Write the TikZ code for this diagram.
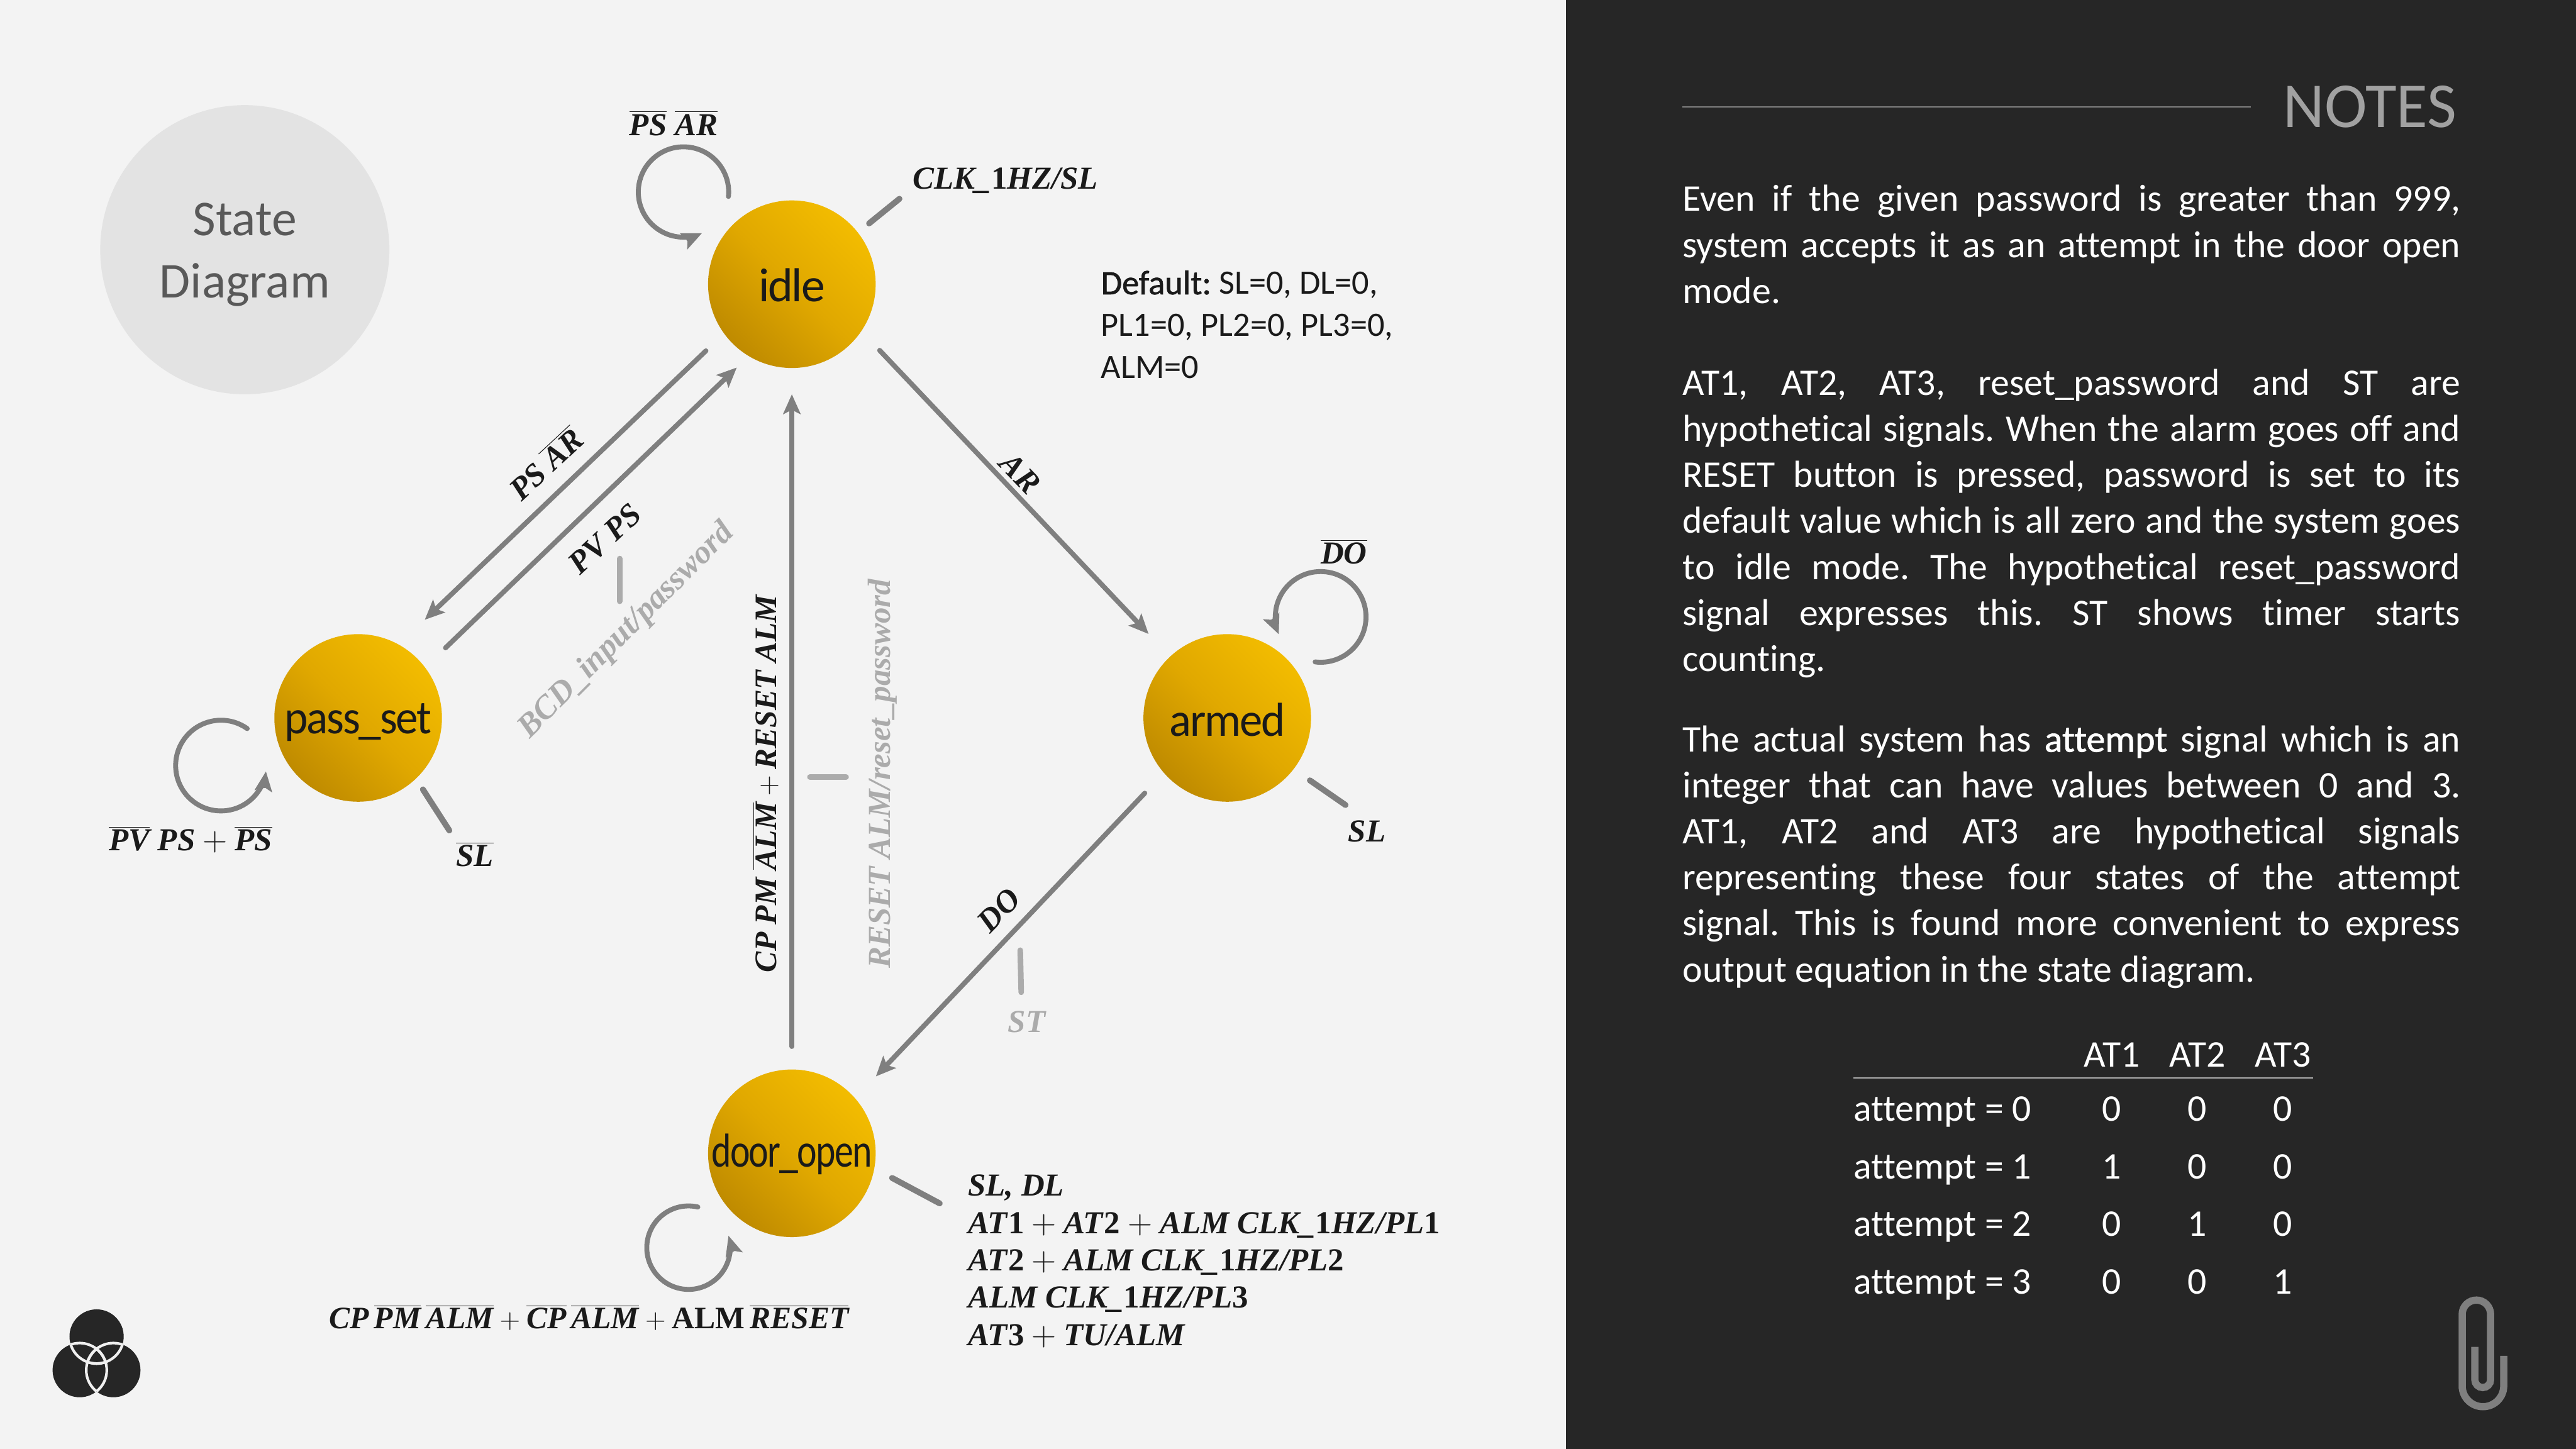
\documentclass[tikz,border=0pt]{standalone}
\usepackage{fontspec}
\setmainfont[Ligatures=NoCommon]{Carlito}
\newfontfamily\sigfam{Liberation Serif}
\newfontfamily\statefam[LetterSpace=-3,Ligatures=NoCommon]{Carlito}
\newfontfamily\semib[FakeBold=1.2,Ligatures=NoCommon]{Carlito}
\usetikzlibrary{arrows.meta}
\frenchspacing
\definecolor{ballD}{HTML}{B27F00}
\definecolor{ballM}{HTML}{E0A800}
\definecolor{ballB}{HTML}{FAC400}
\definecolor{bgIn}{HTML}{F3F3F3}
\definecolor{bgMid}{HTML}{EEEEEE}
\definecolor{bgOut}{HTML}{E2E2E2}
\definecolor{wirec}{HTML}{7F7F7F}
\definecolor{ghost}{HTML}{ABABAB}
\definecolor{ink}{HTML}{1A1A1A}
\definecolor{panel}{HTML}{262626}
\pgfdeclareverticalshading{ballshade}{100bp}{color(0bp)=(ballD);color(15bp)=(ballD);color(50bp)=(ballM);color(85bp)=(ballB);color(100bp)=(ballB)}
\pgfdeclareradialshading{bgshade}{\pgfpoint{0bp}{0bp}}{color(0bp)=(bgIn);color(30bp)=(bgIn);color(44bp)=(bgMid);color(60bp)=(bgOut)}
\newcommand{\ov}[1]{\ensuremath{\overline{\hbox{#1}}}}
\newcommand{\pl}{\ensuremath{\mskip4mu+\mskip4mu}}
\newcommand{\sigfont}{\fontsize{19.5}{23}\sigfam\bfseries\itshape\selectfont}
\newcommand{\bodyfont}{\fontsize{22.9}{28}\selectfont\tolerance=9999\hyphenpenalty=10000\emergencystretch=20pt}
\tikzset{
  x=1pt,y=-1pt,
  ball/.style={circle,minimum size=102pt,inner sep=0pt,outer sep=0pt,shade,shading=ballshade,shading angle=-45,text=ink,text depth=0pt,font=\fontsize{29}{34}\statefam\selectfont},
  wire/.style={draw=wirec,line width=3pt,line cap=round,-{Stealth[length=12pt,width=10.5pt,inset=2.5pt]}},
  stub/.style={draw=wirec,line width=3.6pt,line cap=round},
  ghoststub/.style={draw=ghost,line width=3.4pt,line cap=round},
  siglab/.style={inner sep=0pt,text=ink,font=\sigfont},
  ghostlab/.style={inner sep=0pt,text=ghost,font=\sigfont},
  para/.style={anchor=north west,inner sep=0pt,text width=473.5pt,align=justify,text=white,font=\bodyfont},
  cell/.style={inner sep=0pt,text=white,font=\fontsize{22.9}{28}\selectfont},
}
\begin{document}
\begin{tikzpicture}
\useasboundingbox (0,0) rectangle (1568,882);
% backgrounds
\begin{scope}
\clip (0,0) rectangle (953,882);
\shade[shading=bgshade] (-80,-259) rectangle (1320,1141);
\end{scope}
\fill[panel] (953,0) rectangle (1568,882);
% title disc
\node[circle,fill=black!11,minimum size=176pt,inner sep=0pt] (titledisc) at (149,152) {};
\node[inner sep=0pt,align=center,text=black!65,font=\fontsize{30.5}{38}\selectfont] (title) at (149,155) {State\\Diagram};
% states
\node[ball,text height=21pt] (idle) at (482,173) {idle};
\node[ball,text height=19pt] (passset) at (218,437) {\scalebox{0.94}[1]{pass\_set}};
\node[ball,text height=22pt] (armed) at (747,437) {\scalebox{0.96}[1]{armed}};
\node[ball,text height=16.4pt] (dooropen) at (482,702) {\scalebox{0.79}[1]{door\_open}};
% transitions
\draw[wire,shorten <=15.3pt,shorten >=21.9pt] (idle.216.6) -- (passset.61.8);
\draw[wire,shorten <=17.3pt,shorten >=10.1pt] (passset.37.4) -- (idle.239.7);
\draw[wire,shorten <=16.2pt,shorten >=19pt] (idle.-34.9) -- (armed.133.2);
\draw[wire,shorten <=14pt,shorten >=16pt] (dooropen.90) -- (idle.270);
\draw[wire,shorten <=17pt,shorten >=18.4pt] (armed.221.3) -- (dooropen.41.3);
% self loops
\coordinate (idleloop) at (443.4,119.6);
\draw[wire] (idleloop) arc[start angle=-5.7,end angle=294,radius=27.5pt];
\coordinate (passloop) at (150.5,443.5);
\draw[wire] (passloop) arc[start angle=54.6,end angle=352.6,radius=27.6pt];
\coordinate (armedloop) at (800.5,402.9);
\draw[wire] (armedloop) arc[start angle=-97,end angle=202.6,radius=27.6pt];
\coordinate (doorloop) at (424.8,734.7);
\draw[wire] (doorloop) arc[start angle=77,end angle=376.7,radius=25.4pt];
% output stubs
\coordinate (s1a) at (529,136); \coordinate (s1b) at (547.5,121);
\draw[stub] (s1a) -- (s1b);
\coordinate (s2a) at (257.4,480.5); \coordinate (s2b) at (273.5,505.5);
\draw[stub] (s2a) -- (s2b);
\coordinate (s3a) at (797.3,475); \coordinate (s3b) at (819,490);
\draw[stub] (s3a) -- (s3b);
\coordinate (s4a) at (543,717); \coordinate (s4b) at (572,732.5);
\draw[stub] (s4a) -- (s4b);
\coordinate (g1a) at (377.2,340); \coordinate (g1b) at (377.2,366);
\draw[ghoststub] (g1a) -- (g1b);
\coordinate (g2a) at (493,473); \coordinate (g2b) at (515,473);
\draw[ghoststub] (g2a) -- (g2b);
\coordinate (g3a) at (621,578.4); \coordinate (g3b) at (621.6,604);
\draw[ghoststub] (g3a) -- (g3b);
% labels
\node[siglab] (l1) at (410,75) {\ov{PS} \ov{AR}};
\node[siglab] (l2) at (612,110) {CLK\_\textup{1}HZ/SL};
\node[siglab,rotate=-46] (l3) at (621,288) {AR};
\node[siglab] (l4) at (818,336) {\ov{DO}};
\node[siglab] (l5) at (832,506) {SL};
\node[siglab] (l6) at (289,520) {\ov{SL}};
\node[siglab] (l7) at (116,511) {\ov{PV} PS\pl\ov{PS}};
\node[siglab,rotate=43] (l8) at (332,282) {PS \ov{AR}};
\node[siglab,rotate=43] (l9) at (368,328) {PV PS};
\node[ghostlab,rotate=45,font=\fontsize{20}{23}\sigfam\bfseries\itshape\selectfont] (l10) at (381.5,384) {BCD\_input/password};
\node[ghostlab,rotate=90] (l11) at (537,471) {RESET ALM/reset\_password};
\node[siglab,rotate=90,font=\fontsize{19}{23}\sigfam\bfseries\itshape\selectfont] (l12) at (466,477) {CP PM \ov{ALM}\pl RESET ALM};
\node[siglab,rotate=46] (l13) at (608,554) {DO};
\node[ghostlab] (l14) at (625,622) {ST};
\node[siglab,font=\fontsize{19}{23}\sigfam\bfseries\itshape\selectfont] (l15) at (358.5,802) {CP\hspace{3pt}\ov{PM}\hspace{3pt}\ov{ALM}\pl\ov{CP}\hspace{3pt}\ov{ALM}\pl{\upshape ALM}\hspace{3pt}\ov{RESET}};
\node[siglab,anchor=base west] (o1) at (589,728) {SL, DL};
\node[siglab,anchor=base west] (o2) at (589,751) {AT\textup{1}\pl AT\textup{2}\pl ALM CLK\_\textup{1}HZ/PL\textup{1}};
\node[siglab,anchor=base west] (o3) at (589,773.5) {AT\textup{2}\pl ALM CLK\_\textup{1}HZ/PL\textup{2}};
\node[siglab,anchor=base west] (o4) at (589,796) {ALM CLK\_\textup{1}HZ/PL\textup{3}};
\node[siglab,anchor=base west] (o5) at (589,819) {AT\textup{3}\pl TU/ALM};
% default values
\node[anchor=north west,inner sep=0pt,align=left,text=ink,font=\fontsize{20.8}{25.5}\selectfont] (defaults) at (670,164.5) {{\semib Default:} SL=0, DL=0,\\PL1=0, PL2=0, PL3=0,\\ALM=0};
% notes header
\node[anchor=east,inner sep=0pt,text=black!37,font=\fontsize{39}{42}\selectfont] (notes) at (1495.5,65) {NOTES};
\coordinate (n1) at (1024,65); \coordinate (n2) at (1370,65);
\draw[wirec,line width=0.7pt] (n1) -- (n2);
% notes paragraphs
\node[para] (p1) at (1024,112.5) {Even if the given password is greater than 999,\linebreak system accepts it as an attempt in the door open\linebreak mode.};
\node[para] (p2) at (1024,224.5) {AT1, AT2, AT3, reset\_password and ST are\linebreak hypothetical signals. When the alarm goes off and\linebreak RESET button is pressed, password is set to its\linebreak default value which is all zero and the system goes\linebreak to idle mode. The hypothetical reset\_password\linebreak signal expresses this. ST shows timer starts\linebreak counting.};
\node[para] (p3) at (1024,441.5) {The actual system has {\semib attempt} signal which is an\linebreak integer that can have values between 0 and 3.\linebreak AT1, AT2 and AT3 are hypothetical signals\linebreak representing these four states of the attempt\linebreak signal. This is found more convenient to express\linebreak output equation in the state diagram.};
% table
\node[cell] (h1) at (1285.5,642) {AT1};
\node[cell] (h2) at (1337.5,642) {AT2};
\node[cell] (h3) at (1389.5,642) {AT3};
\coordinate (r1) at (1128,656); \coordinate (r2) at (1408,656);
\draw[ghost,line width=0.8pt] (r1) -- (r2);
\node[cell,anchor=base west] (a0) at (1128,682.5) {attempt = 0};
\node[cell,anchor=base west] (a1) at (1128,717.5) {attempt = 1};
\node[cell,anchor=base west] (a2) at (1128,752.5) {attempt = 2};
\node[cell,anchor=base west] (a3) at (1128,787.5) {attempt = 3};
\node[cell,anchor=base] (c01) at (1285.5,682.5) {0};
\node[cell,anchor=base] (c02) at (1337.5,682.5) {0};
\node[cell,anchor=base] (c03) at (1389.5,682.5) {0};
\node[cell,anchor=base] (c11) at (1285.5,717.5) {1};
\node[cell,anchor=base] (c12) at (1337.5,717.5) {0};
\node[cell,anchor=base] (c13) at (1389.5,717.5) {0};
\node[cell,anchor=base] (c21) at (1285.5,752.5) {0};
\node[cell,anchor=base] (c22) at (1337.5,752.5) {1};
\node[cell,anchor=base] (c23) at (1389.5,752.5) {0};
\node[cell,anchor=base] (c31) at (1285.5,787.5) {0};
\node[cell,anchor=base] (c32) at (1337.5,787.5) {0};
\node[cell,anchor=base] (c33) at (1389.5,787.5) {1};
% logo
\def\logoA{(58.8,813.5) circle[radius=16.5pt]}
\def\logoB{(48.5,834) circle[radius=16.5pt]}
\def\logoC{(69,834) circle[radius=16.5pt]}
\fill[panel] \logoA \logoB \logoC;
\begin{scope}\clip \logoB; \draw[black!6,line width=1.6pt] \logoA; \draw[black!6,line width=1.6pt] \logoC; \end{scope}
\begin{scope}\clip \logoC; \draw[black!6,line width=1.6pt] \logoA; \draw[black!6,line width=1.6pt] \logoB; \end{scope}
\begin{scope}\clip \logoA; \draw[black!6,line width=1.6pt] \logoB; \draw[black!6,line width=1.6pt] \logoC; \end{scope}
% paper clip
\draw[wirec,line width=4.4pt] (1524,825.3) -- (1524,843.6) arc[start angle=0,end angle=-180,radius=12.65pt] -- (1498.7,800) arc[start angle=180,end angle=0,radius=8.65pt] -- (1516,839.8) arc[start angle=0,end angle=-180,radius=4.8pt] -- (1506.4,819.8);
\end{tikzpicture}
\end{document}
